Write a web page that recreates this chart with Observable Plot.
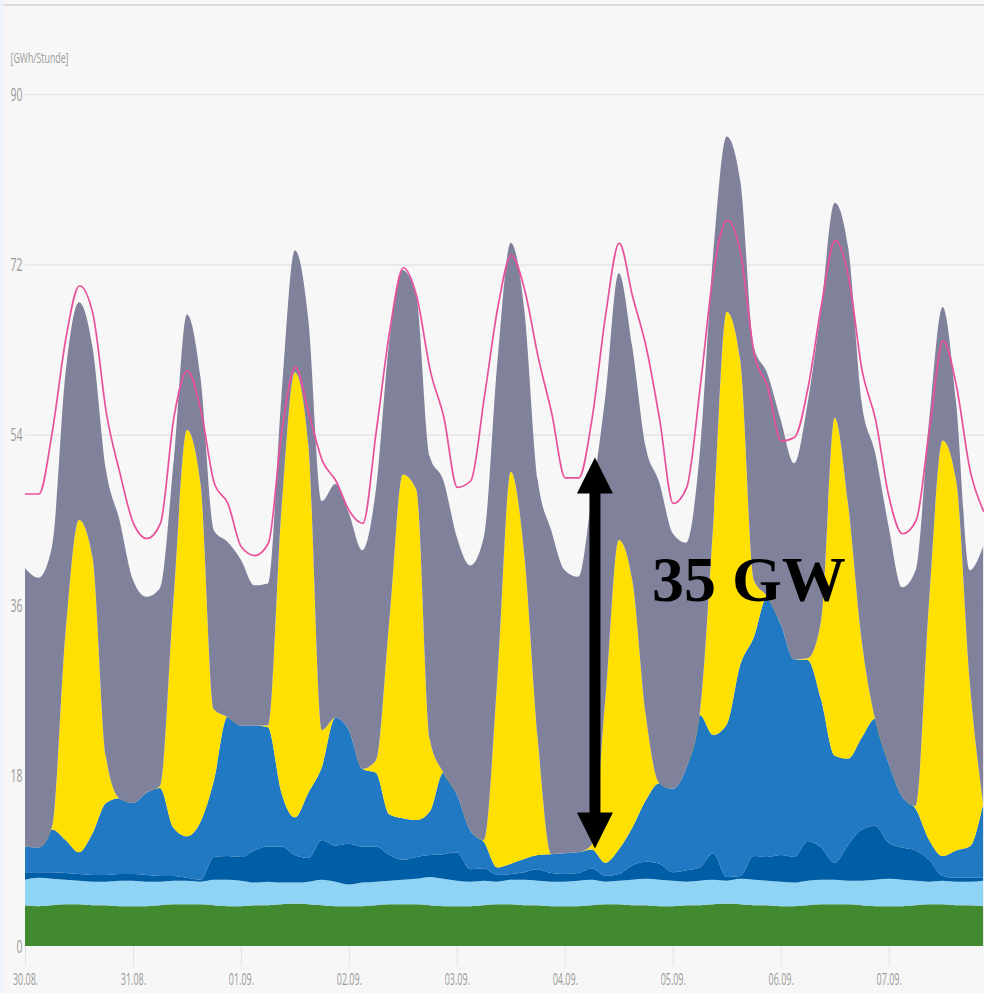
<!DOCTYPE html>
<html><head><meta charset="utf-8">
<script src="https://cdn.jsdelivr.net/npm/d3@7"></script>
<script src="https://cdn.jsdelivr.net/npm/@observablehq/plot@0.6"></script>
<style>
html,body{margin:0;padding:0;background:#f7f7f7;}
#chart{width:984px;height:993px;overflow:hidden;}
</style></head><body><div id="chart"></div>
<script>
// hours since 30.08. 00:00 (3-hour steps)
const hours = [0,3,6,9,12,15,18,21, 24,27,30,33,36,39,42,45, 48,51,54,57,60,63,66,69, 72,75,78,81,84,87,90,93, 96,99,102,105,108,111,114,117, 120,123,126,129,132,135,138,141, 144,147,150,153,156,159,162,165, 168,171,174,177,180,183,186,189, 192,195,198,201,204,207,210,213];

const dayTicks = [0,24,48,72,96,120,144,168,192];
const dayLabels = ["30.08.","31.08.","01.09.","02.09.","03.09.","04.09.","05.09.","06.09.","07.09."];
const yTicks = [0,18,36,54,72,90];
const yUnit = "[GWh/Stunde]";

const seriesNames = ["Biomasse","Wasserkraft","Wind Offshore","Wind Onshore","Photovoltaik","Konventionelle"];
const seriesColors = ["#418a30","#8fd3f5","#005ea6","#2179c3","#ffe000","#80829c"];
const consumptionColor = "#e9509c";

const biomass = [4.3,4.2,4.3,4.4,4.4,4.3,4.3,4.2, 4.2,4.2,4.3,4.4,4.4,4.4,4.3,4.2, 4.2,4.3,4.3,4.4,4.5,4.4,4.3,4.2, 4.2,4.2,4.3,4.4,4.4,4.4,4.3,4.2, 4.2,4.2,4.3,4.4,4.4,4.3,4.3,4.2, 4.2,4.2,4.3,4.4,4.4,4.3,4.3,4.2, 4.2,4.3,4.3,4.4,4.5,4.4,4.3,4.3, 4.2,4.2,4.3,4.4,4.4,4.4,4.3,4.2, 4.2,4.2,4.3,4.4,4.4,4.3,4.3,4.2];
const hydro = [2.7,3.0,2.8,2.6,2.5,2.5,2.5,2.7, 2.7,2.6,2.5,2.5,2.5,2.4,2.7,2.8, 2.7,2.4,2.5,2.3,2.2,2.4,2.7,2.6, 2.3,2.5,2.5,2.5,2.6,2.7,3.0,2.9, 2.7,2.6,2.6,2.4,2.6,2.7,2.6,2.6, 2.6,2.7,2.7,2.4,2.5,2.7,2.8,2.8, 2.7,2.5,2.6,2.6,2.4,2.7,2.7,2.6, 2.6,2.5,2.6,2.6,2.6,2.5,2.6,2.8, 2.9,2.8,2.6,2.4,2.5,2.5,2.5,2.7];
const windOffshore = [0.8,0.6,0.7,0.7,0.7,0.7,0.7,0.7, 0.7,0.7,0.6,0.5,0.3,0.2,2.4,2.5, 2.5,3.4,3.7,3.8,2.9,2.5,4.2,3.8, 4.3,3.8,3.7,2.7,2.1,2.3,2.3,2.6, 3.0,1.3,1.3,0.7,0.6,0.8,1.2,0.9, 0.8,0.8,1.2,0.6,0.7,1.5,1.8,1.7, 0.9,1.2,1.4,2.8,0.4,0.3,2.5,2.5, 2.8,2.7,4.2,3.4,1.8,3.8,5.4,5.7, 3.8,3.4,3.2,2.3,0.5,0.4,0.4,0.3];
const windOnshore = [2.7,2.6,4.5,3.5,2.3,4.4,7.6,8.0, 7.5,8.7,9.3,5.1,4.4,6.1,8.1,14.7, 13.9,13.2,12.6,5.7,4.0,6.9,7.7,13.5, 12.0,8.2,7.8,4.3,4.4,3.9,4.6,8.6, 6.1,4.1,2.8,0.8,1.1,1.4,1.5,2.0, 2.2,2.2,2.0,1.4,2.6,4.0,6.5,8.5, 8.8,10.8,16.1,12.5,16.1,22.3,23.1,27.5, 24.4,20.9,19.1,15.6,11.3,9.1,9.7,11.3, 8.4,5.4,4.4,2.1,2.1,2.9,3.3,7.8];
const solar = [0,0,0.3,21.9,35.1,29.2,4.9,0, 0,0,0.2,24.0,42.9,35.8,7.5,0, 0,0,0.2,29.8,47.0,36.7,3.9,0, 0,0,1.3,20.5,36.3,34.9,7.6,0, 0,0,0.2,19.8,41.4,32.1,12.2,0, 0,0,0.5,17.2,32.7,26.2,9.0,0, 0,0,0.2,22.2,43.6,32.2,6.1,0, 0,0,0.2,8.4,35.7,26.8,10.3,0, 0,0,0.3,25.3,43.9,39.1,17.6,0];
const conventional = [29.4,28.5,29.6,27.4,23.0,22.2,30.3,29.4, 23.6,20.7,20.9,14.5,12.2,11.2,18.9,18.5, 17.5,14.8,15.0,12.0,12.9,13.2,24.2,24.7, 22.9,23.1,28.6,29.6,21.6,20.4,29.9,30.9, 27.2,28.0,32.0,33.5,24.2,25.9,27.4,34.2, 29.9,29.1,36.7,32.0,28.2,24.6,28.3,31.8, 27.0,23.8,27.4,28.7,18.5,19.0,24.6,23.6, 21.6,20.7,27.0,33.1,22.7,27.2,25.1,28.1, 25.0,22.1,24.9,19.1,14.1,8.2,11.6,27.2];
const consumption = [47.8,47.8,54.5,64.3,69.8,66.8,56.3,50.0, 44.7,43.1,44.7,55.9,60.8,56.6,48.9,46.8, 42.2,41.3,42.6,54.5,61.2,56.3,51.3,49.2, 46.0,44.7,54.5,65.1,71.7,68.6,60.8,55.9, 48.5,49.2,58.0,67.5,73.0,69.3,62.2,56.3, 49.5,49.5,55.9,66.8,74.3,68.6,63.3,55.6, 46.8,48.5,59.1,71.4,76.7,73.2,62.6,59.1, 53.4,53.8,59.1,67.9,74.6,70.7,60.8,55.6, 47.4,43.6,45.0,54.8,64.0,59.1,50.3,46.0];

// annotation (double arrow + label)
const arrowHour = [126.6];
const arrowLow = [12.25];
const arrowHigh = [49.75];
const annotationText = ["35 GW"];
const annotationPos = [{h: 139.3, v: 38.7}];

const layers = [biomass, hydro, windOffshore, windOnshore, solar, conventional];
const rows = [];
seriesNames.forEach((s, k) => hours.forEach((h, i) => rows.push({h, series: s, value: layers[k][i]})));
const cons = hours.map((h, i) => ({h, value: consumption[i]}));

const triUp = {draw(ctx, size) { const r = Math.sqrt(size / Math.PI); ctx.moveTo(0, -r); ctx.lineTo(r, r); ctx.lineTo(-r, r); ctx.closePath(); }};
const triDown = {draw(ctx, size) { const r = Math.sqrt(size / Math.PI); ctx.moveTo(0, r); ctx.lineTo(r, -r); ctx.lineTo(-r, -r); ctx.closePath(); }};

const chart = Plot.plot({
  width: 984, height: 993,
  marginLeft: 25, marginRight: 0, marginTop: 94, marginBottom: 47,
  style: {background: "#f7f7f7", fontFamily: "'Open Sans', sans-serif", overflow: "visible"},
  x: {domain: [0, 213.2], label: null},
  y: {domain: [0, 90], label: null},
  color: {domain: seriesNames, range: seriesColors},
  marks: [
    Plot.ruleY(yTicks.filter(d => d > 0), {stroke: "#e6e6e6", strokeWidth: 1.5}),
    Plot.areaY(rows, {x: "h", y: "value", fill: "series", order: seriesNames, curve: "monotone-x"}),
    Plot.line(cons, {x: "h", y: "value", stroke: consumptionColor, strokeWidth: 1.7, curve: "monotone-x"}),
    Plot.axisX({ticks: dayTicks, tickFormat: d => dayLabels[dayTicks.indexOf(d)], tickSize: 20, tickPadding: 6, stroke: "#e3e3e3", fill: "#9a9a9a", fontSize: 17, label: null}),
    Plot.axisY({ticks: yTicks, tickSize: 0, tickPadding: 3, fill: "#9a9a9a", fontSize: 19, label: null}),
    Plot.text([yUnit], {frameAnchor: "top-left", dx: -15, dy: -36, textAnchor: "start", lineAnchor: "middle", fontSize: 15, fill: "#9a9a9a"}),
    Plot.ruleX(arrowHour, {x: d => d, y1: () => arrowLow[0], y2: () => arrowHigh[0], stroke: "black", strokeWidth: 11}),
    Plot.dot(arrowHour, {x: d => d, y: () => arrowHigh[0], symbol: triUp, r: 18, fill: "black", stroke: "none"}),
    Plot.dot(arrowHour, {x: d => d, y: () => arrowLow[0], symbol: triDown, r: 18, fill: "black", stroke: "none"}),
    Plot.text(annotationPos, {x: "h", y: "v", text: (d, i) => annotationText[i], textAnchor: "start", lineAnchor: "middle", fontSize: 64, fontWeight: "bold", fontFamily: "'Liberation Serif', 'Times New Roman', serif", fill: "black"})
  ]
});

document.getElementById("chart").appendChild(chart);
const svg = d3.select(chart);
// compress axis texts like the condensed original
svg.selectAll('g[aria-label="x-axis tick label"] text').each(function() {
  const t = this.textContent; d3.select(this).attr("textLength", t.length * 4.2).attr("lengthAdjust", "spacingAndGlyphs");
});
svg.selectAll('g[aria-label="y-axis tick label"] text').each(function() {
  const t = this.textContent; d3.select(this).attr("textLength", t.length * 6).attr("lengthAdjust", "spacingAndGlyphs");
});
svg.selectAll("text").filter(function() { return this.textContent === yUnit; })
  .attr("textLength", 58).attr("lengthAdjust", "spacingAndGlyphs");
// frame decorations
svg.append("rect").attr("x", 0).attr("y", 0).attr("width", 3).attr("height", 993).attr("fill", "#eef4f9");
svg.append("line").attr("x1", 3).attr("x2", 984).attr("y1", 5).attr("y2", 5).attr("stroke", "#d2d2d2").attr("stroke-width", 1.5);
</script></body></html>
